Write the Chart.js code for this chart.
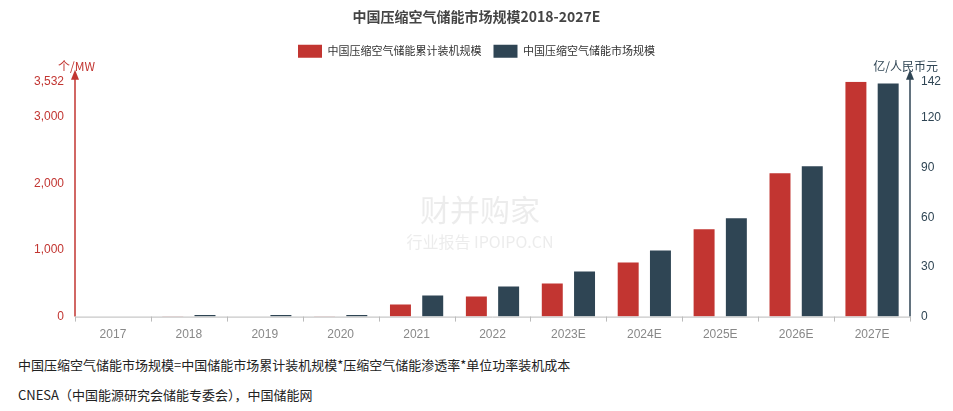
<!DOCTYPE html>
<html><head><meta charset="utf-8">
<script src="https://cdn.jsdelivr.net/npm/chart.js@4/dist/chart.umd.min.js"></script>
<style>
body{margin:0;background:#fff;font-family:"Noto Sans CJK SC","Noto Sans",sans-serif;}
#wrap{position:absolute;left:0;top:0;width:953px;height:345px;}
.foot{position:absolute;left:18px;font-size:13px;color:#222;}
</style></head><body>
<div id="wrap"><canvas id="c"></canvas></div>
<div class="foot" style="top:355px">中国压缩空气储能市场规模=中国储能市场累计装机规模*压缩空气储能渗透率*单位功率装机成本</div>
<div class="foot" style="top:385px">CNESA（中国能源研究会储能专委会），中国储能网</div>
<script>
const categories=["2017","2018","2019","2020","2021","2022","2023E","2024E","2025E","2026E","2027E"];
const capacity=[0.5,5,3,5,181,302,498,815,1313,2158,3532];
const market=[0.1,1,1,1,12.7,18.2,27.3,40,59.5,91,141];
const leftTicks=[0,1000,2000,3000,3532];
const rightTicks=[0,30,60,90,120,142];
const red="#c23531",dark="#2f4554";
const axisExtras={id:"ax",afterDraw(ch){
 const c=ch.ctx,ca=ch.chartArea;
 c.save();c.font="12px 'Noto Sans CJK SC'";
 c.fillStyle=red;c.textAlign="left";c.fillText("个/MW",58,66);
 c.fillStyle=dark;c.textAlign="right";c.fillText("亿/人民币元",938,66);
 function axis(x,col){c.strokeStyle=col;c.fillStyle=col;c.lineWidth=1.5;c.beginPath();c.moveTo(x,ca.bottom);c.lineTo(x,ca.top-8);c.stroke();
  c.beginPath();c.moveTo(x,ca.top-12);c.lineTo(x-4,ca.top-2);c.lineTo(x+4,ca.top-2);c.closePath();c.fill();}
 axis(ca.left,red);axis(ca.right,dark);
 c.strokeStyle="#bbb";c.lineWidth=1;c.beginPath();c.moveTo(ca.left,ca.bottom+0.5);c.lineTo(ca.right,ca.bottom+0.5);
 const w=(ca.right-ca.left)/categories.length;
 for(let i=0;i<=categories.length;i++){const x=Math.round(ca.left+i*w)+0.5;c.moveTo(x,ca.bottom);c.lineTo(x,ca.bottom+5);}
 c.stroke();
 c.font="30px 'Noto Sans CJK SC'";c.fillStyle="rgba(200,200,200,0.35)";c.textAlign="center";c.fillText("财并购家",480,210);
 c.font="16px 'Noto Sans CJK SC'";c.fillText("行业报告 IPOIPO.CN",480,242);
 c.restore();}};
new Chart(document.getElementById("c"),{type:"bar",
 data:{labels:categories,datasets:[
  {label:"中国压缩空气储能累计装机规模",data:capacity,backgroundColor:red,yAxisID:"y",barPercentage:0.65,categoryPercentage:0.85},
  {label:"中国压缩空气储能市场规模",data:market,backgroundColor:dark,yAxisID:"y1",barPercentage:0.65,categoryPercentage:0.85}]},
 options:{responsive:true,maintainAspectRatio:false,animation:false,
  layout:{padding:{top:14,bottom:0,left:0,right:0}},
  plugins:{title:{display:true,text:"中国压缩空气储能市场规模2018-2027E",color:"#444",font:{size:14,weight:"bold",family:"Noto Sans CJK SC"},padding:{top:-6,bottom:8}},
   legend:{labels:{boxWidth:24,boxHeight:13,font:{size:11,family:"Noto Sans CJK SC"},color:"#333",padding:12}},
   tooltip:{enabled:false}},
  scales:{
   x:{grid:{display:false},border:{display:false},ticks:{color:"#888",font:{size:12}}},
   y:{position:"left",min:0,max:3532,grid:{display:false},border:{display:false},
     afterBuildTicks(a){a.ticks=leftTicks.map(v=>({value:v}));},
     afterFit(a){a.width=75;},
     ticks:{color:red,font:{size:12},callback:v=>v.toLocaleString("en-US")}},
   y1:{position:"right",min:0,max:142,grid:{display:false},border:{display:false},
     afterBuildTicks(a){a.ticks=rightTicks.map(v=>({value:v}));},
     afterFit(a){a.width=43;},
     ticks:{color:dark,font:{size:12}}}
  }},
 plugins:[axisExtras,{id:"gap",beforeInit(ch){const l=ch.legend;if(l){const f=l.fit;l.fit=function(){f.call(this);this.height+=14;};}}}]
});
</script></body></html>
